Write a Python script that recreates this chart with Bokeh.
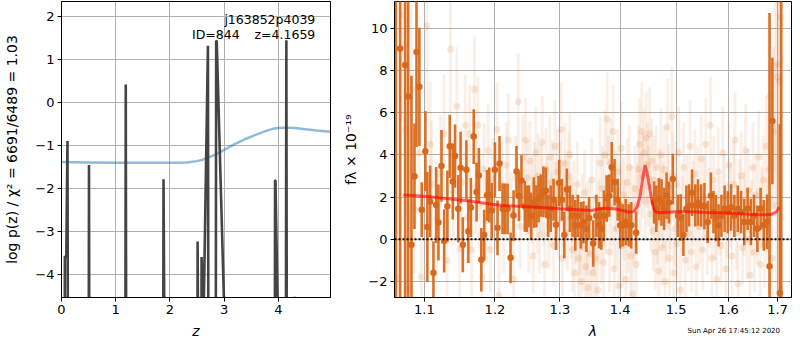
from bokeh.plotting import figure
from bokeh.layouts import row, column
from bokeh.models import (FixedTicker, CustomJSTickFormatter, Label, Span,
                          ColumnDataSource, Range1d, Div)
from bokeh.embed import file_html
from bokeh.resources import INLINE

# ---------------- left panel data: log p(z) ----------------
pz_z = [0.000, 0.050, 0.062, 0.088, 0.110, 0.128, 0.495, 0.507, 0.519,
        1.170, 1.185, 1.200, 1.868, 1.881, 1.900, 2.498, 2.510, 2.540,
        2.571, 2.583, 2.620, 2.700, 2.715, 2.838, 2.852, 2.862, 3.000,
        3.926, 3.938, 3.945, 3.985, 4.130, 4.146, 4.162, 4.292, 4.304,
        4.316, 4.960]
pz_logp = [-12, -12, -3.56, -3.60, -0.89, -12, -12, -1.45, -12,
           -12, 0.42, -12, -12, -1.78, -6.0, -12, -3.23, -12,
           -12, -3.59, -5.0, 1.32, -12, -12, 1.43, 1.43, -4.8,
           -12, -1.81, -1.81, -4.7, -12, 1.45, -12, -12, -4.51,
           -12, -12]

chi_z = [0.0, 0.5, 1.0, 1.5, 2.0, 2.3, 2.5, 2.6, 2.7, 2.8,
         2.9, 3.0, 3.1, 3.2, 3.3, 3.4, 3.5, 3.6, 3.7, 3.8,
         3.9, 4.0, 4.1, 4.2, 4.3, 4.5, 4.7, 4.96]
chi_v = [-1.38, -1.39, -1.40, -1.40, -1.40, -1.39, -1.36, -1.33, -1.28, -1.23,
         -1.17, -1.10, -1.03, -0.96, -0.90, -0.84, -0.79, -0.74, -0.69, -0.645,
         -0.61, -0.59, -0.585, -0.585, -0.59, -0.62, -0.65, -0.68]

z_ticks = [0, 1, 2, 3, 4]
logp_ticks = [-4, -3, -2, -1, 0, 1, 2]

# ---------------- right panel data: spectrum ----------------
bin_wave = [1.0620, 1.0677, 1.0743, 1.0783, 1.0827, 1.0867, 1.0894, 1.0933, 1.0965, 1.1014,
            1.1041, 1.1079, 1.1124, 1.1161, 1.1193, 1.1235, 1.1272, 1.1317, 1.1350, 1.1392,
            1.1424, 1.1469, 1.1502, 1.1534,
            1.1585, 1.1613, 1.1649, 1.1690, 1.1731, 1.1765, 1.1800, 1.1842, 1.1883, 1.1916,
            1.1952, 1.1999, 1.2038, 1.2068, 1.2113, 1.2149, 1.2188, 1.2233, 1.2278, 1.2323,
            1.2360, 1.2398, 1.2449,
            1.2478, 1.2513, 1.2548, 1.2588, 1.2628, 1.2663, 1.2698, 1.2738, 1.2778, 1.2813,
            1.2853, 1.2898, 1.2938, 1.2988, 1.3031, 1.3070, 1.3112, 1.3160, 1.3204, 1.3248,
            1.3290, 1.3339, 1.3382, 1.3431, 1.3475,
            1.3544, 1.3598, 1.3642, 1.3679, 1.3723, 1.3771, 1.3815, 1.3857, 1.3905, 1.3960,
            1.4002, 1.4044, 1.4096, 1.4148, 1.4193, 1.4280,
            1.4600, 1.4640, 1.4687, 1.4733, 1.4780, 1.4826, 1.4872, 1.4940, 1.5037, 1.5086,
            1.5136, 1.5192, 1.5242, 1.5298, 1.5359, 1.5410, 1.5471, 1.5533, 1.5596, 1.5657,
            1.5707, 1.5755, 1.5806,
            1.5862, 1.5924, 1.5987, 1.6051, 1.6117, 1.6184, 1.6250, 1.6315, 1.6382, 1.6448,
            1.6513, 1.6580, 1.6646, 1.6711, 1.6778, 1.6830, 1.6889, 1.7045, 1.7075]
bin_flux = [12.5, 9.03, 8.25, 6.76, -0.26, 2.98, 8.87, 7.22, 1.40, 4.17,
            0.58, 1.79, -1.59, 1.62, 0.79, 3.47, -0.08, 1.56, 4.40, 2.73,
            3.94, 1.44, 3.39, -0.26,
            3.29, 0.38, 1.50, 4.86, 2.24, 3.02, -0.97, 0.20, 2.08, 2.10,
            1.36, 3.29, 0.54, 3.59, 1.44, 1.44, 1.44, -0.88, 1.12, 3.21,
            2.05, 2.78, 1.56,
            1.44, 1.56, 1.11, 1.74, 1.56, 1.90, 2.06, 2.24, 2.30, 1.11,
            1.44, 1.87, 0.69, 2.67, 1.87, 0.20, 2.35, 1.44, 1.11, 0.66,
            1.11, 0.66, 0.80, 0.50, 1.00,
            -0.20, 1.11, 0.66, 0.50, 1.11, 1.93, 2.06, 3.41, 2.70, 1.87,
            0.66, 0.66, 0.82, 0.66, 0.66, 0.31,
            1.74, 1.44, 1.90, 1.74, 1.44, 2.06, 1.74, 2.85, 1.11, 1.03,
            0.20, 1.44, 1.60, 2.20, 1.60, 1.74, 1.60, 1.56, 0.82, 2.06,
            1.28, 1.00, 0.66,
            1.11, 1.44, 1.28, 1.50, 1.11, 1.44, 1.28, 0.82, 1.44, 0.82,
            1.11, 0.50, 1.44, 0.66, 0.82, -1.28, 5.60, -2.55, 14.0]
bin_err = [16, 14, 12, 10, 8, 2.5, 4.5, 2.8, 1.3, 1.9,
           2.6, 1.7, 1.5, 1.8, 1.8, 1.7, 1.5, 1.7, 1.5, 1.8,
           1.5, 1.6, 1.7, 1.3,
           1.4, 1.5, 1.4, 1.3, 1.4, 1.3, 1.5, 1.2, 1.2, 1.3,
           1.3, 1.3, 1.3, 1.3, 1.2, 1.2, 1.2, 1.2, 1.2, 1.2,
           1.2, 1.2, 1.2,
           1.1, 1.0, 1.1, 1.2, 1.0, 1.1, 1.0, 1.2, 1.1, 1.0,
           1.1, 1.0, 1.2, 1.1, 1.0, 1.1, 1.0, 1.1, 1.0, 1.2,
           1.0, 1.1, 1.0, 1.1, 1.0,
           1.1, 1.0, 1.1, 1.0, 1.2, 1.1, 1.0, 1.2, 1.1, 1.0,
           1.1, 1.0, 1.1, 1.0, 1.1, 1.0,
           1.0, 1.1, 1.0, 1.1, 1.0, 1.1, 1.0, 1.2, 1.0, 1.1,
           1.0, 1.1, 1.0, 1.1, 1.0, 1.1, 1.0, 1.1, 1.0, 1.1,
           1.0, 1.1, 1.0,
           1.0, 1.1, 1.0, 1.1, 1.0, 1.1, 1.0, 1.1, 1.0, 1.1,
           1.0, 1.1, 1.0, 1.2, 1.3, 12, 3.0, 8.0, 20]

exp_wave = [1.064, 1.070, 1.075, 1.078, 1.083, 1.087, 1.093, 1.096, 1.1035, 1.108,
            1.110, 1.117, 1.122, 1.127, 1.131, 1.136, 1.140, 1.145, 1.149, 1.152,
            1.157, 1.160, 1.163, 1.166, 1.170, 1.172, 1.175, 1.178, 1.181, 1.184,
            1.187, 1.190, 1.193, 1.196, 1.200, 1.203, 1.206, 1.210, 1.213, 1.217,
            1.220, 1.224, 1.228, 1.231, 1.235, 1.238, 1.242, 1.246,
            1.249, 1.251, 1.253, 1.256, 1.258, 1.260, 1.262, 1.264, 1.266, 1.268,
            1.270, 1.272, 1.274, 1.276, 1.278, 1.280, 1.282, 1.284, 1.286, 1.288,
            1.290, 1.292, 1.294, 1.296, 1.298, 1.300, 1.302, 1.304, 1.306, 1.308,
            1.310, 1.312, 1.314, 1.316, 1.318,
            1.320, 1.322, 1.324, 1.326, 1.328, 1.330, 1.332, 1.334, 1.336, 1.338,
            1.340, 1.342, 1.344, 1.346, 1.348, 1.350, 1.352, 1.354, 1.356, 1.358,
            1.360, 1.362, 1.364, 1.366, 1.368,
            1.370, 1.372, 1.374, 1.376, 1.378, 1.380, 1.382, 1.384, 1.386, 1.388,
            1.390, 1.392, 1.394, 1.396, 1.398, 1.400, 1.402, 1.404, 1.406, 1.408,
            1.410, 1.412, 1.414, 1.416, 1.418, 1.420, 1.422, 1.424, 1.426, 1.428,
            1.430, 1.432, 1.434, 1.436, 1.438, 1.440, 1.442, 1.444, 1.446, 1.448,
            1.450, 1.452, 1.454, 1.456, 1.458, 1.460, 1.462, 1.464,
            1.466, 1.468, 1.470, 1.472, 1.474, 1.476, 1.478, 1.480, 1.482, 1.484,
            1.486, 1.488, 1.490, 1.492, 1.494, 1.496, 1.498, 1.500, 1.502, 1.505,
            1.508, 1.511, 1.514, 1.517, 1.520, 1.523, 1.526, 1.529, 1.532, 1.535,
            1.538, 1.541, 1.544, 1.547, 1.550, 1.553, 1.556, 1.559, 1.562, 1.565,
            1.568, 1.571, 1.574, 1.577, 1.580, 1.583, 1.586, 1.589, 1.592, 1.595,
            1.598, 1.601, 1.604, 1.607, 1.610, 1.613, 1.616, 1.619, 1.622, 1.625,
            1.628, 1.631, 1.634, 1.637, 1.640, 1.643, 1.646, 1.649, 1.652, 1.655,
            1.658, 1.661, 1.664, 1.667, 1.670, 1.673, 1.676, 1.679,
            1.682, 1.685, 1.688, 1.691, 1.694, 1.697, 1.699, 1.702, 1.704, 1.706]
exp_flux = [-1.8, 10.6, 5.2, -2.35, 7.1, 1.4, 4.1, -1.8, 10.1, 4.5,
            2.6, 1.0, 3.1, 5.0, -1.0, 9.0, 2.2, 6.3, -0.45, 2.7,
            5.4, 1.0, 5.0, -0.5, 7.1, 2.5, 5.4, 1.6, -1.8, 3.3,
            0.9, 4.2, -0.5, 2.8, 1.5, 5.2, -2.65, 2.6, 0.4, 3.5,
            4.7, 1.2, -1.9, 2.9, 6.5, 0.6, 3.9, 4.7,
            2.9, 0.4, 3.7, 1.9, -0.8, 2.6, 4.1, 1.2, 3.0, 0.2,
            2.4, 4.6, 1.6, -1.2, 3.3, 2.0, 0.7, 3.9, 1.4, 2.7,
            -0.3, 4.4, 1.9, 3.2, 0.9, 2.5, 5.2, -0.9, 1.7, 3.6,
            2.2, 0.3, 3.0, 4.0, 1.0,
            -0.5, 1.8, -1.6, 0.6, 2.6, -0.9, 0.2, -2.0, 1.3, -0.4,
            2.2, -1.3, 0.5, -2.3, 1.0, -0.7, 2.8, -1.6, 0.3, -0.9,
            1.9, -2.4, 0.8, 3.6, -0.2,
            2.4, -1.1, 4.0, 1.1, 5.7, 2.9, -0.6, 3.6, 1.5, 5.1,
            -1.4, 2.3, 0.5, 3.2, -2.2, 1.7, 4.3, -0.3, 2.1, 0.9,
            -1.9, 2.7, 0.2, 3.4, -0.8, 1.5, -2.6, 0.7, 2.4, -1.2,
            1.6, 3.3, 4.5, 2.2, 5.1, 3.0, 4.1, 1.8, 4.8, 3.5,
            2.5, 5.0, 1.2, 3.7, 0.4, 2.8, -0.6, 3.4,
            0.8, -1.5, 2.2, 4.0, -0.4, 1.6, 3.3, -2.0, 0.9, 5.3,
            2.5, -0.9, 1.4, 5.8, 3.0, -1.6, 0.5, 2.6, -0.2, 4.1,
            -2.4, 1.2, 3.4, -1.0, 2.0, 0.3, 4.4, -0.6, 1.7, 3.1,
            -1.3, 2.4, 0.6, 3.8, -0.5, 2.0, 4.5, 0.1, 1.5, 5.4,
            -0.9, 2.8, 0.8, -1.9, 3.2, 1.1, -0.3, 4.1, 2.0, -1.4,
            0.9, 3.5, 1.6, -0.8, 2.6, 4.7, 0.3, -2.1, 1.9, 3.0,
            -0.4, 1.2, 4.2, 0.0, 2.3, -1.7, 1.0, 3.4, -0.6, 2.1,
            0.6, 3.9, -1.2, 1.5, 2.8, -0.3, 4.4, 0.9,
            3.3, 6.8, -0.9, 5.1, 8.2, 1.6, 7.7, 8.3, 7.5, 10.5]
exp_err = [4.0, 5.0, 4.0, 4.0, 4.0, 3.0, 3.0, 3.0, 4.0, 3.0,
           3.0, 2.8, 2.8, 2.8, 2.6, 3.0, 2.5, 2.8, 2.5, 2.5,
           2.4, 2.2, 2.3, 2.2, 2.5, 2.2, 2.3, 2.2, 2.2, 2.2,
           2.0, 2.2, 2.0, 2.0, 2.0, 2.2, 2.0, 2.0, 2.0, 2.0,
           2.2, 2.0, 2.0, 2.0, 2.3, 2.0, 2.0, 2.0,
           1.8, 2.0, 1.9, 2.1, 1.8, 2.0, 2.2, 1.9, 2.0, 1.8,
           2.1, 2.2, 1.9, 1.8, 2.0, 1.9, 2.1, 2.0, 1.8, 2.0,
           1.9, 2.2, 1.8, 2.0, 1.9, 2.1, 2.2, 1.8, 2.0, 1.9,
           2.0, 1.8, 2.1, 2.0, 1.9,
           2.0, 1.9, 2.1, 1.8, 2.0, 2.2, 1.9, 2.0, 1.8, 2.1,
           2.0, 1.9, 2.2, 2.0, 1.8, 2.1, 2.0, 1.9, 1.8, 2.0,
           2.1, 1.9, 2.0, 2.2, 1.9,
           2.0, 1.9, 2.1, 1.8, 2.2, 2.0, 1.9, 2.1, 1.8, 2.2,
           2.0, 1.9, 1.8, 2.0, 2.1, 1.9, 2.2, 2.0, 1.8, 1.9,
           2.0, 2.1, 1.8, 2.0, 1.9, 2.0, 2.2, 1.8, 2.0, 1.9,
           2.0, 2.1, 2.2, 1.9, 2.3, 2.0, 2.1, 1.9, 2.2, 2.0,
           1.9, 2.2, 1.8, 2.0, 1.9, 2.1, 1.8, 2.0,
           2.0, 1.9, 2.1, 2.2, 1.8, 2.0, 2.1, 1.9, 2.0, 2.3,
           2.0, 1.8, 1.9, 2.4, 2.1, 1.9, 1.8, 2.0, 1.9, 2.2,
           2.0, 1.8, 2.1, 1.9, 2.0, 1.8, 2.2, 1.9, 2.0, 2.1,
           1.9, 2.0, 1.8, 2.1, 1.9, 2.0, 2.2, 1.8, 1.9, 2.3,
           2.0, 2.1, 1.8, 2.0, 2.1, 1.9, 1.8, 2.2, 2.0, 1.9,
           1.8, 2.1, 2.0, 1.9, 2.0, 2.3, 1.8, 2.0, 1.9, 2.1,
           1.8, 2.0, 2.2, 1.9, 2.0, 2.1, 1.8, 2.1, 1.9, 2.0,
           1.8, 2.2, 2.0, 1.9, 2.1, 2.0, 2.4, 2.0,
           3.0, 3.5, 3.0, 4.0, 5.0, 4.0, 6.0, 6.0, 6.0, 8.0]

model_wave = [1.072, 1.10, 1.13, 1.16, 1.19, 1.21, 1.24, 1.27, 1.30, 1.33,
              1.352, 1.365, 1.375, 1.39, 1.405, 1.415, 1.424, 1.430, 1.435, 1.440,
              1.4437, 1.447, 1.451, 1.455, 1.459, 1.463, 1.470, 1.50, 1.53, 1.56,
              1.59, 1.62, 1.645, 1.67, 1.685, 1.697, 1.703]
model_flux = [2.10, 2.04, 1.93, 1.82, 1.68, 1.60, 1.55, 1.50, 1.44, 1.40,
              1.36, 1.44, 1.47, 1.44, 1.36, 1.28, 1.32, 1.55, 2.05, 2.95,
              3.50, 3.20, 2.60, 1.95, 1.45, 1.28, 1.25, 1.30, 1.30, 1.27,
              1.25, 1.22, 1.17, 1.16, 1.17, 1.28, 1.51]

wave_ticks = [1.1, 1.2, 1.3, 1.4, 1.5, 1.6, 1.7]
flux_ticks = [-2, 0, 2, 4, 6, 8, 10]

assert len(bin_wave) == len(bin_flux) == len(bin_err)
assert len(exp_wave) == len(exp_flux) == len(exp_err)

ORANGE = "#d8691c"
FONT = "DejaVu Sans"
MINUS = CustomJSTickFormatter(code="return tick < 0 ? '\\u2212' + (-tick) : '' + tick;")


def style(p):
    p.outline_line_color = "black"
    p.outline_line_width = 1
    p.outline_line_alpha = 1
    p.background_fill_color = "white"
    p.border_fill_color = "white"
    p.grid.grid_line_color = "#b0b0b0"
    p.grid.grid_line_width = 1
    p.axis.axis_line_color = "black"
    p.axis.major_tick_line_color = "black"
    p.axis.major_tick_out = 4
    p.axis.major_tick_in = 0
    p.axis.minor_tick_line_color = None
    p.axis.major_label_text_font = FONT
    p.axis.major_label_text_font_size = "13px"
    p.axis.major_label_text_color = "black"
    p.axis.major_label_standoff = 3
    p.axis.axis_label_text_font = FONT
    p.axis.axis_label_text_font_size = "14px"
    p.axis.axis_label_text_color = "black"
    p.axis.axis_label_standoff = 6


H = 342
W1 = 340
W2 = 452
# ---------------- left figure ----------------
p1 = figure(width=W1, height=H, x_range=Range1d(0, 4.96), y_range=Range1d(-4.53, 2.35),
            output_backend="svg", toolbar_location=None,
            min_border_left=61, min_border_right=10, min_border_top=1, min_border_bottom=45)
style(p1)
p1.xaxis.ticker = FixedTicker(ticks=z_ticks)
p1.yaxis.ticker = FixedTicker(ticks=logp_ticks)
p1.yaxis.formatter = MINUS
p1.xaxis.axis_label = "z"
p1.xaxis.axis_label_text_font_style = "italic"
p1.yaxis.axis_label = "log p(z) / \u03c7\u00b2 = 6691/6489 = 1.03"
p1.yaxis.axis_label_text_font_style = "normal"
p1.yaxis.axis_label_standoff = 12

p1.line(chi_z, chi_v, line_color="#1f77b4", line_alpha=0.5, line_width=2.5)
p1.line(pz_z, pz_logp, line_color="#3a3a3a", line_width=2.6, line_alpha=0.95)

for txt, xx, yy in [("j163852p4039", 4.68, 1.93), ("ID=844", 3.285, 1.59),
                    ("z=4.1659", 4.68, 1.59)]:
    p1.add_layout(Label(x=xx, y=yy, text=txt, text_align="right", text_baseline="middle",
                        text_font=FONT, text_font_size="12.5px", text_color="black"))

# ---------------- right figure ----------------
p2 = figure(width=W2, height=H, x_axis_type="log",
            x_range=Range1d(1.0603, 1.7292), y_range=Range1d(-2.76, 11.26),
            output_backend="svg", toolbar_location=None,
            min_border_left=48, min_border_right=1, min_border_top=1, min_border_bottom=45)
style(p2)
p2.xaxis.ticker = FixedTicker(ticks=wave_ticks)
p2.xaxis.formatter = CustomJSTickFormatter(code="return tick.toFixed(1);")
p2.yaxis.ticker = FixedTicker(ticks=flux_ticks)
p2.yaxis.formatter = MINUS
p2.xaxis.axis_label = "\u03bb"
p2.xaxis.axis_label_text_font_style = "italic"
p2.yaxis.axis_label = "f\u03bb \u00d7 10\u207b\u00b9\u2079"
p2.yaxis.axis_label_text_font_style = "normal"

exp_src = ColumnDataSource(dict(
    w=exp_wave, f=exp_flux,
    lo=[f - e for f, e in zip(exp_flux, exp_err)],
    hi=[f + e for f, e in zip(exp_flux, exp_err)]))
bin_src = ColumnDataSource(dict(
    w=bin_wave, f=bin_flux,
    lo=[f - e for f, e in zip(bin_flux, bin_err)],
    hi=[f + e for f, e in zip(bin_flux, bin_err)]))

p2.segment(x0="w", y0="lo", x1="w", y1="hi", source=exp_src,
           line_color=ORANGE, line_alpha=0.1, line_width=3)
p2.scatter("w", "f", source=exp_src, size=7, fill_color=ORANGE, fill_alpha=0.15,
           line_color=None)
p2.segment(x0="w", y0="lo", x1="w", y1="hi", source=bin_src,
           line_color=ORANGE, line_alpha=0.95, line_width=2.6)
p2.scatter("w", "f", source=bin_src, size=6.5, fill_color=ORANGE, fill_alpha=1,
           line_color=None)
p2.line(model_wave, model_flux, line_color="red", line_alpha=0.6, line_width=3)

p2.add_layout(Span(location=0, dimension="width", line_color="black",
                   line_dash="2 2", line_width=1.8))

stamp = Div(text="Sun Apr 26 17:45:12 2020", width=780, height=9,
            margin=(-15, 0, 0, 0),
            styles={"font-family": FONT, "font-size": "7px", "text-align": "right",
                    "line-height": "9px", "color": "black"})

layout = column(row(p1, p2), stamp)
open("out.html", "w").write(file_html(layout, INLINE))
